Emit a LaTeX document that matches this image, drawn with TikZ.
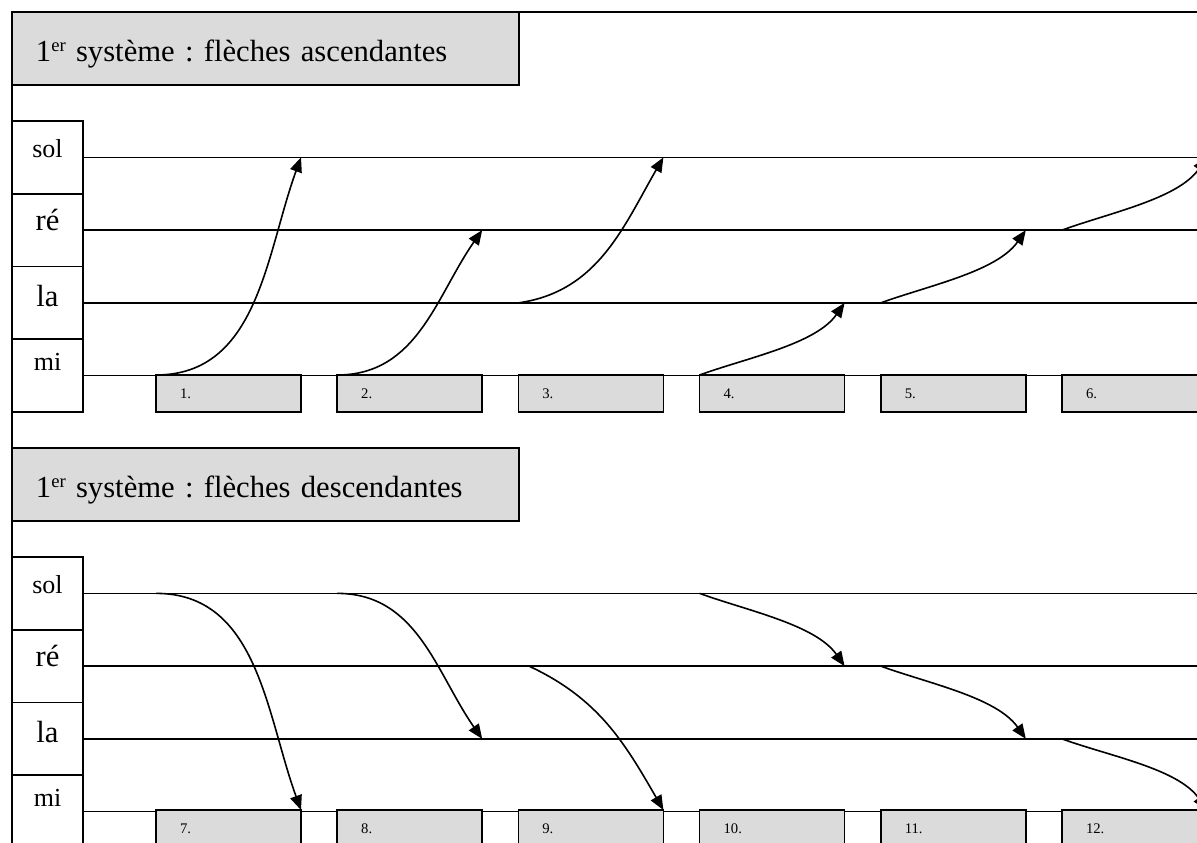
\documentclass[tikz,border=0pt]{standalone}
\usepackage{fontspec}
\setmainfont{Liberation Serif}
\usetikzlibrary{arrows.meta,positioning}
\definecolor{fond}{gray}{0.86}
\newcommand{\exposant}[1]{\raisebox{0.75ex}{\fontsize{14}{14}\selectfont #1}}
\frenchspacing

\begin{document}
\begin{tikzpicture}[
      x=0.75pt, y=0.75pt,
      line width=1.2pt,
      node distance=27.15pt,
      titre/.style={draw, fill=fond, anchor=north west, outer sep=0pt, inner xsep=18pt, inner ysep=0pt, text width=344.25pt, minimum height=54.75pt, text height=20pt, text depth=0pt, align=left, font=\fontsize{23}{27}\selectfont},
      corde/.style={draw, fill=white, anchor=north west, outer sep=0pt, inner sep=0pt, minimum width=53.25pt, minimum height=54.56pt, text height=0pt, text depth=0pt},
      petit/.style={font=\fontsize{19.5}{22}\selectfont},
      grand/.style={font=\fontsize{23}{26}\selectfont},
      case/.style={draw, fill=fond, anchor=north west, outer sep=0pt, inner xsep=18pt, inner ysep=0pt, text width=72.75pt, minimum height=27.75pt, align=left, font=\fontsize{11}{13}\selectfont},
      fleche/.style={-{Triangle[length=11pt,width=9pt]}, line width=1.2pt}
  ]
      \useasboundingbox (0,0) rectangle (1197,-843);

      % Cadre
      \draw (12,-843) -- (12,-12) -- (1200,-12);
      \coordinate (bord) at (1200,0);
      \coordinate (bout) at (1207,0);

      % 1er système : flèches ascendantes
      \node[titre] (t1) at (12,-12) {1\exposant{er} système : flèches ascendantes};

      \node[corde, petit] (s1) at (12,-121) {sol};
      \node[corde, grand, below=0pt of s1] (r1) {ré};
      \node[corde, grand, below=0pt of r1, text height=6pt] (l1) {la};
      \node[corde, petit, below=0pt of l1, text depth=8pt] (m1) {mi};

      \draw (s1.east) -- (s1.east -| bord);
      \draw (r1.east) -- (r1.east -| bord);
      \draw (l1.east) -- (l1.east -| bord);
      \draw (m1.east) -- (m1.east -| bord);

      \node[case] (n1) at (156,-375) {1.};
      \node[case, right=of n1] (n2) {2.};
      \node[case, right=of n2] (n3) {3.};
      \node[case, right=of n3] (n4) {4.};
      \node[case, right=of n4] (n5) {5.};
      \node[case, right=of n5] (n6) {6.};

      \draw[fleche] (n1.north west) to[out=0, in=250] (n1.north east |- s1.east);
      \draw[fleche] (n2.north west) to[out=0, in=235] (n2.north east |- r1.east);
      \draw[fleche] (n3.north west |- l1.east) to[out=8, in=240] (n3.north east |- s1.east);
      \draw[fleche] (n4.north west) to[out=20, in=235, looseness=0.8] (n4.north east |- l1.east);
      \draw[fleche] (n5.north west |- l1.east) to[out=20, in=235, looseness=0.8] (n5.north east |- r1.east);
      \draw[fleche] (n6.north west |- r1.east) to[out=20, in=235, looseness=0.8] (bout |- s1.east);

      % 1er système : flèches descendantes
      \node[titre] (t2) at (12,-448) {1\exposant{er} système : flèches descendantes};

      \node[corde, petit] (s2) at (12,-557) {sol};
      \node[corde, grand, below=0pt of s2] (r2) {ré};
      \node[corde, grand, below=0pt of r2, text height=6pt] (l2) {la};
      \node[corde, petit, below=0pt of l2, text depth=8pt] (m2) {mi};

      \draw (s2.east) -- (s2.east -| bord);
      \draw (r2.east) -- (r2.east -| bord);
      \draw (l2.east) -- (l2.east -| bord);
      \draw (m2.east) -- (m2.east -| bord);

      \node[case] (n7) at (156,-810) {7.};
      \node[case, right=of n7] (n8) {8.};
      \node[case, right=of n8] (n9) {9.};
      \node[case, right=of n9] (n10) {10.};
      \node[case, right=of n10] (n11) {11.};
      \node[case, right=of n11] (n12) {12.};

      \draw[fleche] (n7.north west |- s2.east) to[out=0, in=110] (n7.north east);
      \draw[fleche] (n8.north west |- s2.east) to[out=0, in=125] (n8.north east |- l2.east);
      \draw[fleche] ([xshift=8pt]n9.north west |- r2.east) to[out=-25, in=120] (n9.north east);
      \draw[fleche] (n10.north west |- s2.east) to[out=-20, in=125, looseness=0.8] (n10.north east |- r2.east);
      \draw[fleche] (n11.north west |- r2.east) to[out=-20, in=125, looseness=0.8] (n11.north east |- l2.east);
      \draw[fleche] (n12.north west |- l2.east) to[out=-20, in=125, looseness=0.8] (bout |- n12.north);

  \end{tikzpicture}
\end{document}
